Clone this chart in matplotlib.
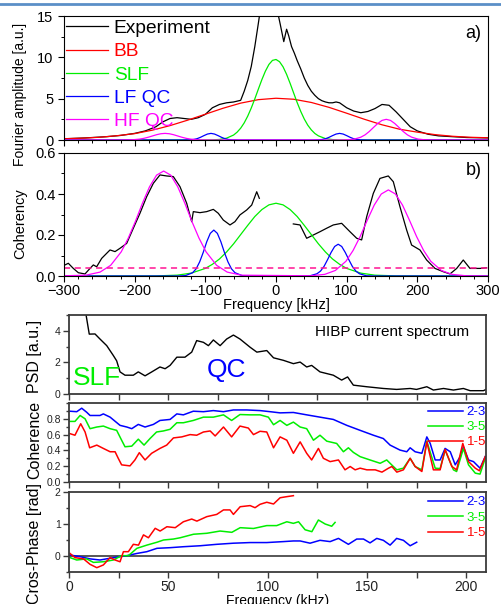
import matplotlib
matplotlib.use("Agg")
import matplotlib.pyplot as plt
from matplotlib.ticker import MultipleLocator
from matplotlib.lines import Line2D

plt.rcParams['font.family'] = ['Liberation Sans', 'DejaVu Sans']

# ---- a) Fourier amplitude ----
exp_f = [-300, -270, -240, -220, -200, -185, -170, -160, -150, -140, -130, -120, -110, -100, -90,
         -80, -70, -60, -50, -45, -40, -35, -30, -25, -20, -15, -10, 0, 3, 6,
         11, 15, 18, 22, 26, 30, 35, 40, 45, 50, 55, 60, 65, 70, 75,
         80, 85, 90, 95, 100, 110, 120, 130, 140, 150, 160, 170, 180, 190, 200,
         215, 230, 250, 270, 300]
exp_a = [0.15, 0.25, 0.4, 0.55, 0.8, 1.1, 1.6, 2.2, 2.6, 2.7, 2.6, 2.5, 2.7, 3.1, 3.9,
         4.3, 4.5, 4.6, 4.8, 5.9, 7.2, 8.9, 11.3, 14.1, 17, 20, 22, 20, 15.2, 14.0,
         11.9, 13.4, 12.6, 11.3, 10.5, 9.6, 8.6, 7.5, 6.6, 5.9, 5.4, 5.0, 4.75, 4.6, 4.5,
         4.5, 4.6, 4.5, 4.2, 3.9, 3.5, 3.3, 3.45, 3.8, 4.3, 4.2, 3.4, 2.5, 1.6, 1.1,
         0.7, 0.5, 0.4, 0.3, 0.25]

bb_f = [-300, -275, -250, -225, -200, -175, -150, -125, -100, -75, -50, -25, 0,
        25, 50, 75, 100, 125, 150, 175, 200, 225, 250, 275, 300]
bb_a = [0.15, 0.22, 0.33, 0.52, 0.77, 1.19, 1.74, 2.4, 3.12, 3.84, 4.46, 4.88, 5.05,
        4.93, 4.54, 3.95, 3.24, 2.51, 1.84, 1.3, 0.95, 0.65, 0.45, 0.33, 0.27]

slf_f = [-300, -100, -90, -80, -70, -60, -55, -50, -45, -40, -35, -30, -25, -20, -15, -10, -5, 0,
         5, 10, 15, 20, 25, 30, 35, 40, 45, 50, 55, 60, 70, 80, 90, 100, 300]
slf_a = [0, 0.004, 0.017, 0.066, 0.22, 0.6, 0.95, 1.43, 2.07, 2.89, 3.87, 4.97, 6.15, 7.3, 8.33, 9.14, 9.63, 9.74,
         9.47, 8.85, 7.94, 6.85, 5.68, 4.52, 3.46, 2.54, 1.79, 1.22, 0.79, 0.5, 0.17, 0.05, 0.013, 0.003, 0]

lfqc_f = [-300, -132, -122, -117, -112, -107, -102, -97, -92, -87, -82, -77, -72, -67, -62, -52,
          50, 60, 65, 70, 75, 80, 85, 90, 95, 100, 105, 110, 115, 120, 130, 300]
lfqc_a = [0, 0, 0.02, 0.06, 0.15, 0.32, 0.53, 0.72, 0.8, 0.72, 0.53, 0.32, 0.15, 0.06, 0.02, 0,
          0, 0.02, 0.06, 0.15, 0.32, 0.53, 0.72, 0.8, 0.72, 0.53, 0.32, 0.15, 0.06, 0.02, 0, 0]

hfqc_f = [-300, -223, -211, -202, -193, -187, -181, -175, -169, -163, -157, -151, -145, -139, -133,
          -127, -121, -112, -103, -91,
          90, 102, 111, 120, 126, 132, 138, 144, 150, 156, 162, 168, 174, 180, 186, 192, 201, 210, 222, 300]
hfqc_a = [0, 0, 0.009, 0.035, 0.108, 0.199, 0.329, 0.485, 0.641, 0.757, 0.8, 0.757, 0.641, 0.485, 0.329,
          0.199, 0.108, 0.035, 0.009, 0,
          0, 0.03, 0.11, 0.34, 0.62, 1.03, 1.52, 2.0, 2.37, 2.5, 2.37, 2.0, 1.52, 1.03, 0.62, 0.34, 0.11, 0.03, 0, 0]

# ---- b) coherency ----
coh1_f = [-298.6, -293.9, -286.8, -279.7, -270.3, -263.2, -258.5, -253.8, -246.7, -234.9, -227.8, -220.8,
          -211.3, -201.9, -192.5, -183, -173.6, -164.2, -154.7, -145.3, -135.9, -126.4, -119.3, -117,
          -107.6, -98.1, -88.7, -81.7, -74.6, -65.1, -58.1, -51, -41.5, -34.4, -27.3, -23.6]
coh1_v = [0.054, 0.062, 0.037, 0.016, 0.01, 0.037, 0.054, 0.045, 0.086, 0.127, 0.119, 0.135,
          0.159, 0.233, 0.306, 0.387, 0.452, 0.493, 0.488, 0.485, 0.436, 0.355, 0.265, 0.314,
          0.309, 0.314, 0.325, 0.306, 0.273, 0.249, 0.265, 0.298, 0.322, 0.346, 0.411, 0.379]
coh2_f = [24.5, 34, 43.4, 52.8, 62.2, 71.7, 81.1, 92.9, 104.7, 114.2, 121.2, 128.3, 137.7, 147.1,
          158.9, 166, 175.4, 184.9, 191.9, 203.7, 213.2, 225, 236.7, 246.2, 255.7, 265, 274.5, 288.6, 298]
coh2_v = [0.254, 0.249, 0.184, 0.2, 0.216, 0.233, 0.249, 0.257, 0.216, 0.184, 0.176, 0.289, 0.403, 0.476,
          0.488, 0.46, 0.338, 0.224, 0.151, 0.127, 0.078, 0.037, 0.021, 0.01, 0.037, 0.078, 0.037, 0.037, 0.04]

bgc_f = [-300, -269, -249, -234, -219, -209, -199, -189, -179, -169, -159, -149, -139, -129, -119,
         -109, -99, -84, -69, -49,
         49, 69, 84, 99, 109, 119, 129, 139, 149, 159, 169, 179, 189, 199, 209, 219, 234, 249, 269, 300]
bgc_v = [0.001, 0.004, 0.019, 0.052, 0.118, 0.185, 0.266, 0.355, 0.435, 0.492, 0.512, 0.492, 0.435, 0.355, 0.266,
         0.185, 0.118, 0.052, 0.019, 0.004,
         0.001, 0.008, 0.027, 0.072, 0.124, 0.192, 0.271, 0.346, 0.40, 0.42, 0.40, 0.346, 0.271, 0.192, 0.124,
         0.072, 0.027, 0.008, 0.001, 0.0]

blc_f = [-300, -138, -128, -118, -113, -108, -103, -98, -93, -88, -83, -78, -73, -68, -63, -58, -48, -38,
         38, 48, 58, 63, 68, 73, 78, 83, 88, 93, 98, 103, 108, 113, 118, 128, 138, 300]
blc_v = [0, 0, 0.002, 0.016, 0.035, 0.069, 0.115, 0.167, 0.208, 0.224, 0.208, 0.167, 0.115, 0.069, 0.035, 0.016, 0.002, 0,
         0, 0.001, 0.011, 0.024, 0.047, 0.080, 0.115, 0.144, 0.155, 0.144, 0.115, 0.080, 0.047, 0.024, 0.011, 0.001, 0, 0]

grc_f = [-300, -170, -140, -120, -100, -90, -80, -70, -60, -50, -40, -30, -20, -10, 0,
         10, 20, 30, 40, 50, 60, 70, 80, 90, 100, 120, 140, 170, 300]
grc_v = [0, 0.0005, 0.004, 0.014, 0.037, 0.057, 0.083, 0.117, 0.157, 0.202, 0.247, 0.29, 0.324, 0.347, 0.355,
         0.347, 0.324, 0.29, 0.247, 0.202, 0.157, 0.117, 0.083, 0.057, 0.037, 0.014, 0.004, 0.0005, 0]

noise_level = 0.04

# ---- c) HIBP current spectrum ----
psd_f = [7, 8.6, 10.2, 13.1, 15.6, 19, 22.3, 24, 25.7, 28.2, 32.4, 34.9, 38.3, 41.7, 45.8, 48.4, 50.9,
         54.3, 58.4, 61.8, 64.3, 67.7, 70.2, 72.7, 76.1, 79.4, 82.8, 86.1, 91.2, 94.6, 99.6, 103, 108,
         113, 116.4, 119.7, 122.2, 126.4, 133.1, 137.3, 140.3, 143.2, 149.9, 158.3, 165, 171.8, 175,
         180.2, 183.5, 188.6, 193.6, 198.6, 202, 208.7, 210]
psd_v = [6, 5, 3.79, 3.8, 3.48, 3.06, 2.44, 2.1, 1.4, 1.19, 1.19, 1.4, 1.15, 1.4, 1.71, 1.6, 1.81,
         2.33, 2.33, 2.65, 3.38, 3.27, 3.06, 3.42, 3.06, 3.48, 3.73, 3.48, 2.96, 2.65, 2.75, 2.29, 2.13,
         1.92, 2.02, 1.71, 1.81, 1.4, 1.19, 0.88, 1.08, 0.56, 0.46, 0.35, 0.29, 0.35, 0.29,
         0.46, 0.25, 0.35, 0.25, 0.35, 0.21, 0.21, 0.29]

# ---- d) coherence between channels ----
c23_f = [0.5, 3.9, 6.4, 8.9, 10.6, 15.6, 17.3, 20.7, 25.7, 29.1, 31.6, 34.9, 38.3, 42.5, 45.8, 50.9,
         54.3, 57.6, 62.6, 67.7, 72.7, 77.8, 82.8, 89.5, 96.2, 101.3, 106.3, 113, 119.7, 126.4, 133.1,
         139.9, 146.6, 153.3, 158.3, 161.7, 166.7, 170.1, 171.8, 174.3, 177.7, 180.2, 181.9, 184.4,
         186.9, 189.4, 192, 194.5, 197, 198.6, 201.2, 203.7, 207, 209.6]
c23_v = [0.896, 0.89, 0.934, 0.883, 0.842, 0.842, 0.862, 0.821, 0.717, 0.696, 0.675, 0.729, 0.696, 0.729,
         0.779, 0.792, 0.862, 0.85, 0.896, 0.89, 0.904, 0.89, 0.912, 0.912, 0.904, 0.89, 0.875, 0.88, 0.85,
         0.821, 0.792, 0.717, 0.654, 0.592, 0.55, 0.467, 0.404, 0.383, 0.433, 0.383, 0.363, 0.571, 0.488,
         0.279, 0.279, 0.425, 0.383, 0.217, 0.321, 0.446, 0.279, 0.258, 0.175, 0.321]
c35_f = [0.5, 3, 5.6, 8.1, 10.6, 14, 17.3, 20.7, 24, 26.5, 28.2, 31.6, 34.9, 37.8, 40.8, 44.1, 47.5,
         50.9, 54.3, 57.6, 62.6, 67.7, 72.7, 77.8, 81.9, 86.1, 91.2, 96.2, 100.4, 103, 106.3, 109.7, 113,
         116.4, 119.7, 123.1, 126.4, 129.8, 134.8, 138.2, 140.7, 143.2, 146.6, 151.6, 156.7, 160, 162.5,
         165.1, 168.4, 171.8, 174.3, 177.7, 180.2, 184.4, 186.9, 189.4, 193.6, 195.2, 198.6, 201.2,
         204.6, 207, 209.6]
c35_v = [0.767, 0.767, 0.842, 0.8, 0.675, 0.696, 0.708, 0.675, 0.654, 0.529, 0.446, 0.454, 0.542, 0.467,
         0.55, 0.633, 0.646, 0.667, 0.75, 0.75, 0.779, 0.821, 0.821, 0.85, 0.779, 0.854, 0.85, 0.85, 0.821,
         0.725, 0.779, 0.717, 0.758, 0.696, 0.675, 0.529, 0.592, 0.517, 0.488, 0.383, 0.433, 0.375, 0.321,
         0.279, 0.237, 0.279, 0.217, 0.154, 0.175, 0.3, 0.196, 0.154, 0.517, 0.175, 0.17, 0.404, 0.154,
         0.133, 0.425, 0.217, 0.112, 0.1, 0.3]
c15_f = [0.5, 3, 5.9, 8.1, 10.4, 14, 17.3, 20.7, 23.2, 24.8, 26.5, 30.7, 33.2, 35.4, 38.3, 41.6, 45.8,
         49.2, 52.6, 56.8, 61, 64.3, 67.7, 71.1, 73.6, 77.8, 81.9, 86.1, 90.3, 92.9, 96.2, 99.6, 103,
         106.3, 109.7, 113, 116.4, 119.7, 122.2, 125.6, 128.1, 131.5, 135.7, 139, 141.6, 144.1, 146.6,
         150, 154.2, 157.6, 160.9, 162.6, 165.1, 168.4, 171.8, 174.3, 177.7, 180.2, 183.5, 186.9, 189.4,
         192.8, 195.2, 198.3, 201.2, 204.6, 206.7, 209.6]
c15_v = [0.612, 0.592, 0.737, 0.633, 0.433, 0.467, 0.425, 0.383, 0.383, 0.3, 0.217, 0.204, 0.279, 0.371,
         0.279, 0.363, 0.425, 0.467, 0.558, 0.571, 0.6, 0.592, 0.633, 0.646, 0.583, 0.696, 0.571, 0.708,
         0.683, 0.6, 0.642, 0.633, 0.433, 0.571, 0.529, 0.363, 0.508, 0.363, 0.279, 0.425, 0.3, 0.258,
         0.279, 0.154, 0.196, 0.154, 0.175, 0.154, 0.154, 0.125, 0.175, 0.196, 0.125, 0.154, 0.3, 0.196,
         0.133, 0.508, 0.154, 0.154, 0.412, 0.196, 0.154, 0.488, 0.258, 0.175, 0.142, 0.321]

# ---- e) cross-phase ----
p23_f = [0.5, 5.6, 10.6, 15.6, 20.7, 25.7, 29.1, 34.2, 39.2, 44.3, 50.9, 57.6, 66, 74.4, 82.8, 91.2,
         99.6, 108, 113, 116.4, 121.4, 126.4, 131.5, 135.7, 140.7, 144.9, 148.3, 151.6, 155, 158.3,
         161.7, 165, 168.4, 171.8, 175.1]
p23_v = [0.03, -0.02, -0.09, -0.125, -0.07, -0.02, 0.01, 0.08, 0.135, 0.24, 0.26, 0.29, 0.32, 0.365, 0.40,
         0.42, 0.42, 0.45, 0.47, 0.47, 0.40, 0.49, 0.45, 0.55, 0.365, 0.53, 0.53, 0.41, 0.55, 0.49, 0.34,
         0.55, 0.49, 0.32, 0.43]
p35_f = [0.5, 3.9, 8.9, 12.3, 17.3, 22.3, 26.5, 29.9, 34.2, 39.2, 44.3, 47.6, 52.6, 56, 62.7, 69.4,
         76.1, 82, 86.2, 92.9, 99.6, 104.6, 109.7, 113, 115.6, 118.9, 122.3, 125.6, 129, 132.3, 134]
p35_v = [-0.05, -0.125, -0.09, -0.2, -0.18, -0.125, 0.01, 0.01, 0.24, 0.34, 0.43, 0.5, 0.53, 0.57, 0.68,
         0.71, 0.78, 0.74, 0.885, 0.86, 0.95, 0.95, 1.07, 1.02, 1.07, 0.82, 0.76, 1.125, 1.0, 0.93, 1.05]
p15_f = [0.5, 3, 7.3, 10.6, 14, 17.3, 20.7, 23.2, 25.7, 27.4, 29.9, 32.4, 35, 37.5, 40, 43.4, 45.9,
         49.3, 53.5, 57.6, 61.8, 64.4, 69.4, 74.4, 77.8, 81.1, 82.8, 86.2, 91.2, 93.7, 96.2, 99.6, 103,
         106.3, 109.7, 113]
p15_v = [0.08, -0.05, -0.09, -0.26, -0.365, -0.28, -0.05, -0.125, -0.18, 0.135, 0.135, 0.365, 0.34, 0.66,
         0.57, 0.865, 0.78, 0.915, 0.885, 1.07, 1.155, 1.09, 1.23, 1.30, 1.44, 1.44, 1.30, 1.54, 1.575,
         1.51, 1.615, 1.68, 1.625, 1.82, 1.855, 1.885]

pair_labels = ['2-3', '3-5', '1-5']

GREEN = '#00ee00'
GRAY = '#3a3a3a'
W, H = 501, 604


def box(l, t, r, b):
    return [l / W, 1 - b / H, (r - l) / W, (b - t) / H]


fig = plt.figure(figsize=(W / 100, H / 100), dpi=100)
fig.add_artist(Line2D([0, 1], [1 - 4 / H] * 2, color='#5b8fc7', lw=2))

# ------------ panel a ------------
ax = fig.add_axes(box(64, 16, 488, 140))
ax.plot(exp_f, exp_a, color='black', lw=0.9, label='Experiment')
ax.plot(bb_f, bb_a, color='red', lw=0.9, label='BB')
ax.plot(slf_f, slf_a, color=GREEN, lw=0.9, label='SLF')
ax.plot(lfqc_f, lfqc_a, color='blue', lw=0.9, label='LF QC')
ax.plot(hfqc_f, hfqc_a, color='magenta', lw=0.9, label='HF QC')
ax.set_xlim(-300, 300)
ax.set_ylim(0, 15)
ax.xaxis.set_major_locator(MultipleLocator(100))
ax.xaxis.set_minor_locator(MultipleLocator(20))
ax.yaxis.set_major_locator(MultipleLocator(5))
ax.yaxis.set_minor_locator(MultipleLocator(2.5))
ax.tick_params(axis='x', labelbottom=False)
ax.tick_params(which='major', direction='out', length=4, width=0.8, labelsize=10.5)
ax.tick_params(which='minor', direction='out', length=2.5, width=0.7)
leg = ax.legend(loc='upper left', bbox_to_anchor=(0.0, 0.985), frameon=False, fontsize=13.8,
                handlelength=2.2, handletextpad=0.3, labelspacing=0.3, borderaxespad=0.1,
                borderpad=0.0, labelcolor=['black', 'red', GREEN, 'blue', 'magenta'])
ax.text(0.985, 0.93, 'a)', transform=ax.transAxes, ha='right', va='top', fontsize=13)

# ------------ panel b ------------
ax = fig.add_axes(box(64, 153, 488, 276))
ax.plot(coh1_f, coh1_v, color='black', lw=0.9)
ax.plot(coh2_f, coh2_v, color='black', lw=0.9)
ax.plot(grc_f, grc_v, color=GREEN, lw=0.9)
ax.plot(blc_f, blc_v, color='blue', lw=0.9)
ax.plot(bgc_f, bgc_v, color='magenta', lw=0.9)
ax.axhline(noise_level, color='#ff1493', lw=1.1, ls=(0, (4, 3)))
ax.set_xlim(-300, 300)
ax.set_ylim(0, 0.6)
ax.xaxis.set_major_locator(MultipleLocator(100))
ax.xaxis.set_minor_locator(MultipleLocator(20))
ax.yaxis.set_major_locator(MultipleLocator(0.2))
ax.yaxis.set_minor_locator(MultipleLocator(0.1))
ax.tick_params(which='major', direction='out', length=4, width=0.8, labelsize=10.5, pad=2)
ax.tick_params(which='minor', direction='out', length=2.5, width=0.7)
ax.set_xlabel('Frequency [kHz]', fontsize=10.5, labelpad=0)
ax.text(0.985, 0.93, 'b)', transform=ax.transAxes, ha='right', va='top', fontsize=13)

fig.text(20 / W, 1 - 94 / H, 'Fourier amplitude [a.u.]', rotation=90, ha='center', va='center', fontsize=10)
fig.text(20 / W, 1 - 224 / H, 'Coherency', rotation=90, ha='center', va='center', fontsize=10.5)


def lower_style(ax, ymajor, yminor):
    for s in ax.spines.values():
        s.set_color(GRAY)
        s.set_linewidth(1.3)
    ax.set_xlim(0, 210)
    ax.xaxis.set_major_locator(MultipleLocator(50))
    ax.xaxis.set_minor_locator(MultipleLocator(25))
    ax.yaxis.set_major_locator(MultipleLocator(ymajor))
    ax.yaxis.set_minor_locator(MultipleLocator(yminor))
    ax.tick_params(which='both', direction='out', color=GRAY, width=1.0)
    ax.tick_params(which='major', length=4, labelsize=7.5, labelcolor='#222222', pad=2)
    ax.tick_params(which='minor', length=4)
    ax.tick_params(axis='y', which='minor', length=2.5)


# ------------ panel c ------------
ax = fig.add_axes(box(69, 315, 486, 394))
ax.plot(psd_f, psd_v, color='black', lw=1.0)
lower_style(ax, 2, 1)
ax.set_ylim(0, 5)
ax.tick_params(axis='x', labelbottom=False)
ax.text(0.96, 0.78, 'HIBP current spectrum', transform=ax.transAxes, ha='right', va='center', fontsize=11)
ax.text(0.01, 0.20, 'SLF', transform=ax.transAxes, ha='left', va='center', fontsize=19, color=GREEN)
ax.text(0.33, 0.30, 'QC', transform=ax.transAxes, ha='left', va='center', fontsize=19, color='blue')

# ------------ panel d ------------
ax = fig.add_axes(box(69, 403, 486, 482))
for xs, ys, c, lab in [(c23_f, c23_v, 'blue', pair_labels[0]), (c35_f, c35_v, GREEN, pair_labels[1]),
                       (c15_f, c15_v, 'red', pair_labels[2])]:
    ax.plot(xs, ys, color=c, lw=1.1, label=lab)
lower_style(ax, 0.2, 0.1)
ax.set_ylim(0, 1.0)
ax.set_yticks([0, 0.2, 0.4, 0.6, 0.8])
ax.tick_params(axis='x', labelbottom=False)
ax.legend(loc='upper right', bbox_to_anchor=(1.0, 0.96), frameon=False, fontsize=9.5, handlelength=2.6,
          handletextpad=0.3, labelspacing=0.2, borderaxespad=0, borderpad=0,
          labelcolor=['blue', GREEN, 'red'])

# ------------ panel e ------------
ax = fig.add_axes(box(69, 492, 486, 572))
for xs, ys, c, lab in [(p23_f, p23_v, 'blue', pair_labels[0]), (p35_f, p35_v, GREEN, pair_labels[1]),
                       (p15_f, p15_v, 'red', pair_labels[2])]:
    ax.plot(xs, ys, color=c, lw=1.1, label=lab)
ax.axhline(0, color=GRAY, lw=1.2, zorder=1)
lower_style(ax, 1, 0.5)
ax.set_ylim(-0.5, 2)
ax.tick_params(axis='x', which='major', labelsize=10, pad=1.5)
ax.legend(loc='upper right', bbox_to_anchor=(1.0, 0.95), frameon=False, fontsize=9.5, handlelength=2.6,
          handletextpad=0.3, labelspacing=0.25, borderaxespad=0, borderpad=0,
          labelcolor=['blue', GREEN, 'red'])
ax.set_xlabel('Frequency (kHz)', fontsize=10, labelpad=0)

fig.text(35 / W, 1 - 356 / H, 'PSD [a.u.]', rotation=90, ha='center', va='center', fontsize=11.5)
fig.text(35 / W, 1 - 440 / H, 'Coherence', rotation=90, ha='center', va='center', fontsize=11.5)
fig.text(35 / W, 1 - 543 / H, 'Cros-Phase [rad]', rotation=90, ha='center', va='center', fontsize=11.5)

fig.savefig('out.png', dpi=100)
